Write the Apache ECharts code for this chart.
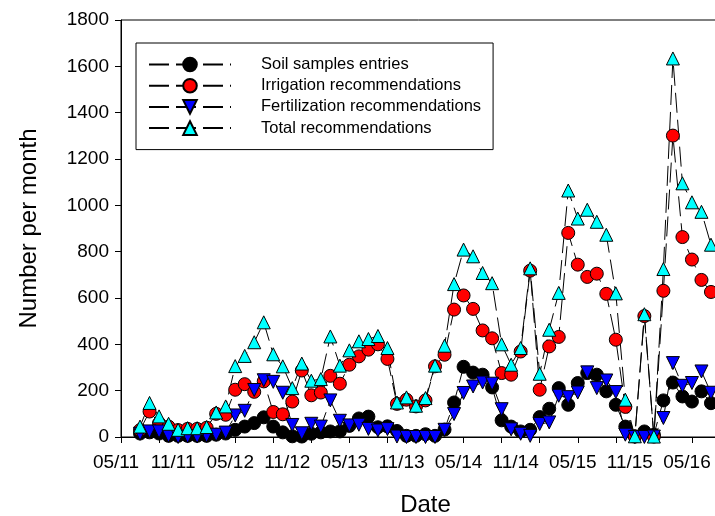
<!DOCTYPE html>
<html>
<head>
<meta charset="utf-8">
<script src="https://cdn.jsdelivr.net/npm/echarts@6/dist/echarts.min.js"></script>
<style>
  html, body { margin: 0; padding: 0; background: #fff; }
  #chart { width: 715px; height: 516px; }
</style>
</head>
<body>
<div id="chart"></div>
<script>
// monthly points, MM/YY
var months = [
  '07/11', '08/11', '09/11', '10/11', '11/11', '12/11',
  '01/12', '02/12', '03/12', '04/12', '05/12', '06/12', '07/12', '08/12', '09/12', '10/12', '11/12', '12/12',
  '01/13', '02/13', '03/13', '04/13', '05/13', '06/13', '07/13', '08/13', '09/13', '10/13', '11/13', '12/13',
  '01/14', '02/14', '03/14', '04/14', '05/14', '06/14', '07/14', '08/14', '09/14', '10/14', '11/14', '12/14',
  '01/15', '02/15', '03/15', '04/15', '05/15', '06/15', '07/15', '08/15', '09/15', '10/15', '11/15', '12/15',
  '01/16', '02/16', '03/16', '04/16', '05/16', '06/16', '07/16'
];
var soil = [
  15, 20, 15, 5, 5, 5, 5, 5, 10, 15,
  31, 45, 60, 85, 45, 20, 3, 2, 14, 20,
  24, 24, 48, 80, 88, 42, 46, 26, 5, 5,
  12, 5, 32, 149, 303, 278, 269, 214, 72, 45,
  24, 31, 86, 122, 211, 139, 233, 276, 269, 197,
  139, 45, 2, 24, 10, 158, 235, 175, 153, 197,
  146
];
var irrigation = [
  30, 110, 60, 45, 30, 35, 35, 40, 100, 96,
  204, 228, 195, 240, 108, 98, 153, 287, 180, 192,
  264, 230, 312, 348, 377, 400, 337, 143, 161, 132,
  158, 305, 355, 550, 611, 553, 460, 426, 276, 269,
  369, 718, 204, 391, 432, 881, 744, 691, 705, 618,
  420, 130, 3, 522, 2, 631, 1301, 863, 766, 678,
  626
];
var fertilization = [
  14, 24, 24, 5, 0, 2, 2, 5, 10, 19,
  93, 113, 203, 245, 238, 191, 52, 16, 57, 45,
  158, 70, 50, 53, 35, 28, 34, 2, 0, 0,
  0, 0, 31, 99, 190, 218, 235, 230, 120, 33,
  14, 5, 56, 63, 178, 172, 192, 279, 211, 244,
  194, 10, 0, 0, 2, 82, 319, 221, 233, 283,
  191
];
var total = [
  45, 147, 89, 57, 31, 38, 38, 43, 106, 132,
  306, 350, 409, 495, 357, 305, 211, 317, 243, 250,
  434, 308, 374, 413, 423, 436, 384, 149, 171, 135,
  168, 308, 394, 660, 809, 780, 708, 664, 400, 312,
  384, 728, 273, 463, 622, 1064, 943, 981, 929, 873,
  620, 161, 3, 530, 2, 725, 1634, 1095, 1013, 972,
  830
];
var tickLabels = ['05/11', '11/11', '05/12', '11/12', '05/13', '11/13', '05/14', '11/14', '05/15', '11/15', '05/16'];
var names = ['Soil samples entries', 'Irrigation recommendations', 'Fertilization recommendations', 'Total recommendations'];

// months since 05/11
var monthIndex = function (s) {
  var p = s.split('/');
  return (+p[1] - 11) * 12 + (+p[0] - 5);
};
var labelAt = {};
tickLabels.forEach(function (t) { labelAt[monthIndex(t)] = t; });
var tickValues = [];
for (var t = 0; t <= 64; t += 4) tickValues.push(t);

var pairs = function (vals) {
  return vals.map(function (v, i) { return [monthIndex(months[i]), v]; });
};

var font = 'Liberation Sans, Arial, sans-serif';
var dash = [20, 7];

var makeSeries = function (name, vals, symbol, color, rotate) {
  return {
    name: name,
    type: 'line',
    data: pairs(vals),
    symbol: symbol,
    symbolSize: 13,
    symbolRotate: rotate || 0,
    clip: false,
    lineStyle: { color: '#000', width: 1, type: dash },
    itemStyle: { color: color, borderColor: '#000', borderWidth: 1 },
    emphasis: { disabled: true },
    animation: false
  };
};

var chart = echarts.init(document.getElementById('chart'));
chart.setOption({
  backgroundColor: '#fff',
  textStyle: { fontFamily: font },
  grid: {
    left: 121, top: 20, width: 609, height: 417,
    outerBoundsMode: 'none',
    containLabel: false,
    show: true, borderColor: '#000', borderWidth: 1
  },
  legend: {
    orient: 'vertical',
    left: 136, top: 43,
    padding: [13, 12, 13, 12],
    itemWidth: 82, itemHeight: 17,
    itemGap: 4.2,
    borderColor: '#000', borderWidth: 1,
    backgroundColor: '#fff',
    textStyle: { fontFamily: font, fontSize: 16.5, color: '#000', padding: [0, 0, 0, 25] },
    data: names
  },
  xAxis: {
    type: 'value',
    min: 0, max: 64,
    name: 'Date',
    nameLocation: 'middle',
    nameGap: 56,
    nameTextStyle: { fontFamily: font, fontSize: 24, color: '#000' },
    axisLine: { lineStyle: { color: '#000', width: 1 } },
    axisTick: { customValues: tickValues, length: 6, lineStyle: { color: '#000' } },
    axisLabel: {
      customValues: Object.keys(labelAt).map(Number),
      formatter: function (v) { return labelAt[v] || ''; },
      fontFamily: font, fontSize: 19, color: '#000', margin: 16,
      padding: [0, 10, 0, 0]
    },
    splitLine: { show: false }
  },
  yAxis: {
    type: 'value',
    min: 0, max: 1800, interval: 200,
    name: 'Number per month',
    nameLocation: 'middle',
    nameGap: 80,
    nameTextStyle: { fontFamily: font, fontSize: 24, color: '#000' },
    axisLine: { show: true, lineStyle: { color: '#000', width: 1 } },
    axisTick: { show: true, length: 6, lineStyle: { color: '#000' } },
    axisLabel: {
      formatter: function (v) { return String(v); },
      fontFamily: font, fontSize: 19, color: '#000', margin: 12
    },
    splitLine: { show: false }
  },
  series: [
    makeSeries(names[0], soil, 'circle', '#000000'),
    makeSeries(names[1], irrigation, 'circle', '#ff0000'),
    makeSeries(names[2], fertilization, 'triangle', '#0000ff', 180),
    makeSeries(names[3], total, 'triangle', '#00ffff')
  ]
});
</script>
</body>
</html>
